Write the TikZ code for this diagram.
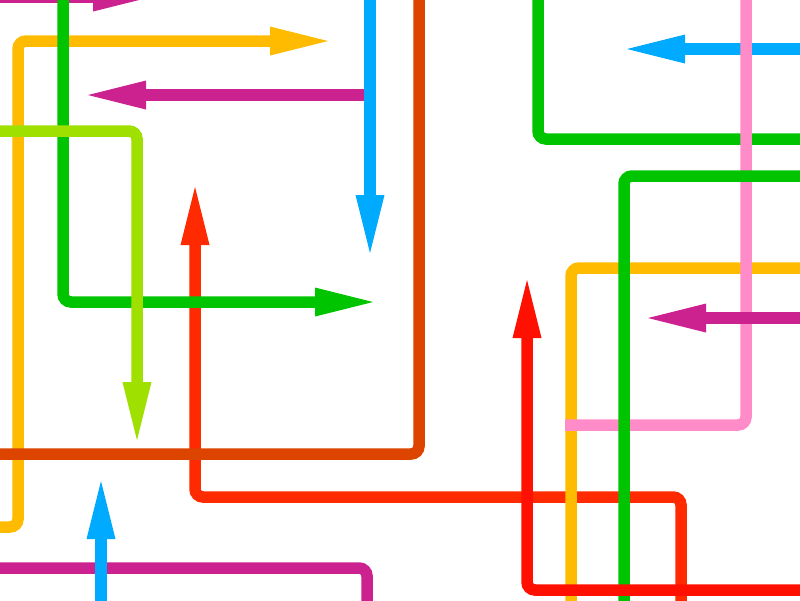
\documentclass[tikz,border=0pt]{standalone}
\usetikzlibrary{arrows.meta}
\definecolor{cMag}{HTML}{CC2290}
\definecolor{cYel}{HTML}{FFBB00}
\definecolor{cGrn}{HTML}{00C400}
\definecolor{cBlu}{HTML}{00AAFF}
\definecolor{cLgr}{HTML}{A0E000}
\definecolor{cRor}{HTML}{FF2A00}
\definecolor{cRed}{HTML}{FF1000}
\definecolor{cDor}{HTML}{DD4400}
\definecolor{cPnk}{HTML}{FF8CC8}
\tikzset{
  wire/.style={line width=11.5pt, rounded corners=8pt},
  arr/.style={wire, -{Triangle[length=58pt,width=29pt,line width=0pt]}}
}
\begin{document}
\begin{tikzpicture}[x=1pt,y=-1pt]
\useasboundingbox (0,0) rectangle (800,600);
\clip (0,0) rectangle (800,600);
\fill[white] (0,0) rectangle (800,600);
% magenta top
\draw[arr, cMag] (-20,-3) -- (151,-3);
% yellow left
\draw[arr, cYel] (-20,527) -- (18,527) -- (18,41) -- (328,41);
% red-orange
\draw[arr, cRor] (681,620) -- (681,497) -- (195,497) -- (195,187);
% green left
\draw[arr, cGrn] (63,-20) -- (63,302) -- (373,302);
% light green
\draw[arr, cLgr] (-20,131) -- (137,131) -- (137,440);
% dark orange
\draw[wire, cDor] (419,-20) -- (419,454) -- (-20,454);
% magenta middle
\draw[arr, cMag] (364,95) -- (88,95);
% blue top
\draw[arr, cBlu] (370,-20) -- (370,253);
% magenta bottom
\draw[wire, cMag] (-20,568) -- (367,568) -- (367,620);
% blue bottom
\draw[arr, cBlu] (101,620) -- (101,481);
% green top right
\draw[wire, cGrn] (538,-20) -- (538,139) -- (820,139);
% blue right
\draw[arr, cBlu] (820,49) -- (627,49);
% yellow right
\draw[wire, cYel] (820,268) -- (571,268) -- (571,620);
% pink
\draw[wire, cPnk] (746,-20) -- (746,425) -- (565,425);
% magenta right
\draw[arr, cMag] (820,318) -- (648,318);
% green second
\draw[wire, cGrn] (820,176) -- (624,176) -- (624,620);
% red
\draw[arr, cRed] (820,590) -- (527,590) -- (527,280);
\end{tikzpicture}
\end{document}
